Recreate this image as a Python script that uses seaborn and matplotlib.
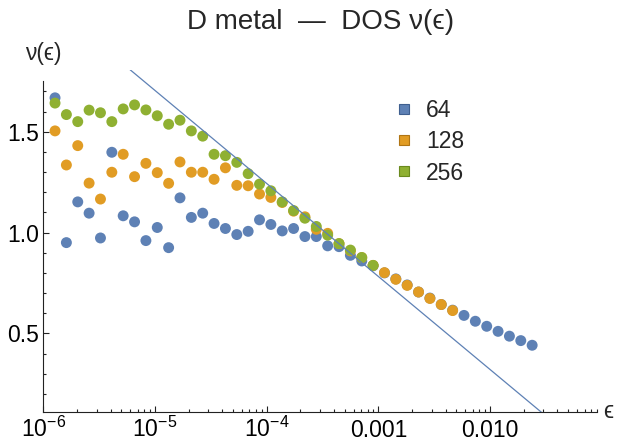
import matplotlib
matplotlib.use("Agg")
import matplotlib.pyplot as plt
import matplotlib.ticker as mticker
from matplotlib.lines import Line2D
import numpy as np
import pandas as pd
import seaborn as sns

# energy grid: geometric (first point, step in decades)
log_eps_first = -5.895
log_eps_step = 0.1017

nu_64 = [
    1.668, 0.950, 1.152, 1.096, 0.973, 1.398, 1.083, 1.053, 0.960, 1.025,
    0.925, 1.172, 1.075, 1.096, 1.045, 1.020, 0.990, 1.006, 1.063, 1.040,
    1.008, 1.020, 0.980, 0.980, 0.934, 0.930, 0.887, 0.859, 0.835, 0.800,
    0.770, 0.740, 0.705, 0.675, 0.643, 0.615, 0.589, 0.560, 0.535, 0.510,
    0.486, 0.464, 0.441,
]
nu_128 = [
    1.504, 1.335, 1.431, 1.245, 1.166, 1.299, 1.388, 1.277, 1.343, 1.297,
    1.244, 1.350, 1.299, 1.299, 1.264, 1.321, 1.234, 1.232, 1.191, 1.174,
    1.149, 1.106, 1.078, 1.016, 0.996, 0.945, 0.909, 0.876, 0.837, 0.801,
    0.768, 0.738, 0.705, 0.673, 0.643, 0.613,
]
nu_256 = [
    1.642, 1.585, 1.550, 1.607, 1.594, 1.550, 1.613, 1.633, 1.608, 1.579,
    1.537, 1.557, 1.504, 1.478, 1.388, 1.381, 1.348, 1.292, 1.240, 1.207,
    1.152, 1.109, 1.071, 1.030, 0.987, 0.945, 0.913, 0.876, 0.837,
]
sizes = ["64", "128", "256"]
colors = ["#5E81B5", "#E19C24", "#8FB032"]
edge_colors = ["#3F5F8F", "#B07514", "#6A8A1E"]

# reference line nu = a + b * log10(eps)
line_a = -0.602
line_b = -0.4613

xtick_vals = [1e-6, 1e-5, 1e-4, 1e-3, 1e-2]
xtick_labels = [r"$\mathregular{10^{-6}}$", r"$\mathregular{10^{-5}}$",
                r"$\mathregular{10^{-4}}$", "0.001", "0.010"]
ytick_vals = [0.5, 1.0, 1.5]
ytick_labels = ["0.5", "1.0", "1.5"]

sns.set_style("ticks")
plt.rcParams["font.family"] = ["Liberation Sans", "DejaVu Sans"]
plt.rcParams["mathtext.fontset"] = "custom"
plt.rcParams["mathtext.rm"] = "Liberation Sans"

frames = []
for label, values in zip(sizes, [nu_64, nu_128, nu_256]):
    k = np.arange(len(values))
    frames.append(pd.DataFrame({
        "eps": 10 ** (log_eps_first + log_eps_step * k),
        "nu": values,
        "L": label,
    }))
df = pd.concat(frames, ignore_index=True)

W, H = 621, 443
fig = plt.figure(figsize=(W / 100, H / 100), dpi=100)
ax = fig.add_axes([43.3 / W, 31 / H, (597 - 43.3) / W, 342 / H])

sns.scatterplot(data=df, x="eps", y="nu", hue="L", hue_order=sizes,
                palette=colors, s=62, linewidth=0, legend=False, ax=ax,
                zorder=2)

x_lo, x_hi = 1e-6, 10 ** -1.043
y_lo, y_hi = 0.110, 1.806
eps_line = np.array([x_lo, x_hi])
ax.plot(eps_line, line_a + line_b * np.log10(eps_line), color=colors[0],
        lw=0.9, zorder=3)

ax.set_xscale("log")
ax.set_xlim(x_lo, x_hi)
ax.set_ylim(y_lo, y_hi)

ax.set_xticks(xtick_vals)
ax.set_xticklabels(xtick_labels)
ax.xaxis.set_minor_locator(mticker.LogLocator(base=10, subs=np.arange(2, 10), numticks=20))
ax.xaxis.set_minor_formatter(mticker.NullFormatter())
ax.set_yticks(ytick_vals)
ax.set_yticklabels(ytick_labels)
ax.yaxis.set_minor_locator(mticker.FixedLocator([0.2, 0.3, 0.4, 0.6, 0.7, 0.8, 0.9,
                                                  1.1, 1.2, 1.3, 1.4, 1.6, 1.7]))

ax.tick_params(which="both", direction="in", color="#222222", width=0.8,
               labelsize=16.5, labelcolor="black")
ax.tick_params(which="major", length=4)
ax.tick_params(which="minor", length=2.2)
ax.tick_params(axis="x", pad=18)
ax.tick_params(axis="y", pad=3)
for t in ax.get_xticklabels():
    t.set_verticalalignment("baseline")

sns.despine(ax=ax)
ax.spines["left"].set_bounds(y_lo, 1.75)
for side in ["left", "bottom"]:
    ax.spines[side].set_color("#222222")
    ax.spines[side].set_linewidth(0.8)

ax.set_xlabel("")
ax.set_ylabel("")
ax.text(0, 1.047, "ν(ϵ)", transform=ax.transAxes, ha="center", va="center",
        fontsize=16.5)
ax.text(1.0199, 0, "ϵ", transform=ax.transAxes, ha="center", va="center",
        fontsize=16.5)

fig.text(321 / W, 1 - 22 / H, "D metal  —  DOS ν(ϵ)", ha="center",
         va="center", fontsize=20)

handles = [Line2D([], [], marker="s", ls="", markersize=7.2, markerfacecolor=c,
                  markeredgecolor=ec, markeredgewidth=0.8)
           for c, ec in zip(colors, edge_colors)]
ax.legend(handles, sizes, loc="upper left", bbox_to_anchor=(395 / W, 1 - 99 / H),
          bbox_transform=fig.transFigure, frameon=False, fontsize=16.5,
          handlelength=0.8, handletextpad=0.55, labelspacing=0.36,
          borderpad=0, borderaxespad=0)

fig.savefig("out.png", dpi=100)
